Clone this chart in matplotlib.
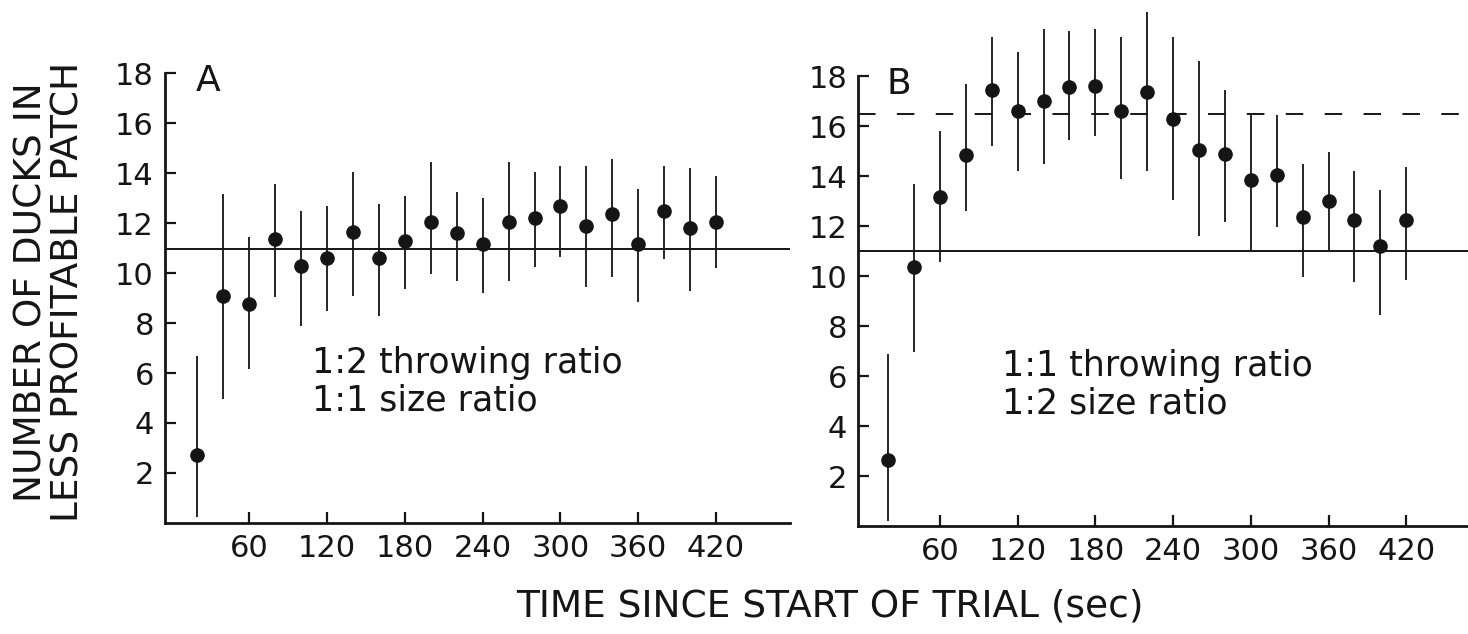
import matplotlib
matplotlib.use('Agg')
import matplotlib.pyplot as plt

plt.rcParams['font.family'] = ['DejaVu Sans']

# time since start of trial (sec)
t = [20, 40, 60, 80, 100, 120, 140, 160, 180, 200, 220,
     240, 260, 280, 300, 320, 340, 360, 380, 400, 420]

# panel A: 1:2 throwing ratio, 1:1 size ratio
a_mean = [2.7, 9.1, 8.75, 11.35, 10.3, 10.6, 11.65, 10.6, 11.3, 12.05, 11.6,
          11.15, 12.05, 12.2, 12.7, 11.9, 12.35, 11.15, 12.5, 11.8, 12.05]
a_hi = [6.7, 13.15, 11.45, 13.55, 12.5, 12.7, 14.05, 12.75, 13.1, 14.45, 13.25,
        13.0, 14.45, 14.05, 14.3, 14.3, 14.55, 13.35, 14.3, 14.2, 13.9]
a_lo = [0.25, 4.95, 6.15, 9.05, 7.9, 8.5, 9.1, 8.3, 9.35, 9.95, 9.7,
        9.2, 9.7, 10.25, 10.65, 9.45, 9.85, 8.85, 10.55, 9.3, 10.2]

# panel B: 1:1 throwing ratio, 1:2 size ratio
b_mean = [2.65, 10.35, 13.15, 14.85, 17.45, 16.6, 17.0, 17.55, 17.6, 16.6, 17.35,
          16.3, 15.05, 14.9, 13.85, 14.05, 12.35, 13.0, 12.25, 11.2, 12.25]
b_hi = [6.9, 13.7, 15.8, 17.7, 19.55, 18.95, 19.9, 19.8, 19.9, 19.55, 20.55,
        19.55, 18.6, 17.45, 16.45, 16.45, 14.5, 14.95, 14.2, 13.45, 14.35]
b_lo = [0.2, 6.95, 10.55, 12.6, 15.2, 14.2, 14.5, 15.45, 15.6, 13.9, 14.2,
        13.05, 11.6, 12.15, 11.05, 11.95, 9.95, 11.05, 9.75, 8.45, 9.85]

# expected numbers (ideal free distribution lines)
a_ideal = 10.95
b_ideal = 11.0
b_dashed = 16.5

xticks = [60, 120, 180, 240, 300, 360, 420]
yticks = [2, 4, 6, 8, 10, 12, 14, 16, 18]

ink = '#151515'


def panel(ax, mean, lo, hi, letter, note, xlim):
    err = [[m - l for m, l in zip(mean, lo)], [h - m for m, h in zip(mean, hi)]]
    ax.errorbar(t, mean, yerr=err, fmt='o', color=ink, ms=9.5,
                elinewidth=1.3, capsize=0, zorder=3)
    ax.set_xlim(*xlim)
    ax.set_ylim(0, 21)
    ax.set_xticks(xticks)
    ax.set_yticks(yticks)
    for s in ['top', 'right']:
        ax.spines[s].set_visible(False)
    ax.spines['left'].set_bounds(0, 18)
    for s in ['left', 'bottom']:
        ax.spines[s].set_linewidth(2)
        ax.spines[s].set_color(ink)
    ax.tick_params(axis='both', direction='in', length=8, width=1.6,
                   labelsize=22, colors=ink)
    ax.tick_params(axis='y', pad=8)
    ax.tick_params(axis='x', pad=8)
    ax.text(19, 17.3, letter, fontsize=26, color=ink, ha='left', va='baseline')
    ax.text(108, 5.65, note, fontsize=25, color=ink, ha='left', va='center',
            linespacing=1.1)


fig = plt.figure(figsize=(14.68, 6.34), dpi=100)

ax1 = fig.add_axes([0.1124, 0.1751, 0.4257, 0.828])
panel(ax1, a_mean, a_lo, a_hi, 'A', '1:2 throwing ratio\n1:1 size ratio', (-5, 477))
ax1.axhline(a_ideal, color=ink, lw=1.4, zorder=2)

ax2 = fig.add_axes([0.5847, 0.1703, 0.4153, 0.828])
panel(ax2, b_mean, b_lo, b_hi, 'B', '1:1 throwing ratio\n1:2 size ratio', (-3, 467.7))
ax2.axhline(b_ideal, color=ink, lw=1.4, zorder=2)
ax2.axhline(b_dashed, color=ink, lw=1.4, dashes=(9, 11), zorder=2)

fig.text(0.034, 0.54, 'NUMBER OF DUCKS IN\nLESS PROFITABLE PATCH', rotation=90,
         ha='center', va='center', multialignment='center', fontsize=27,
         color=ink, linespacing=1.05)
fig.text(0.565, 0.043, 'TIME SINCE START OF TRIAL (sec)', ha='center', va='center',
         fontsize=27, color=ink)

fig.savefig('out.png', dpi=100)
